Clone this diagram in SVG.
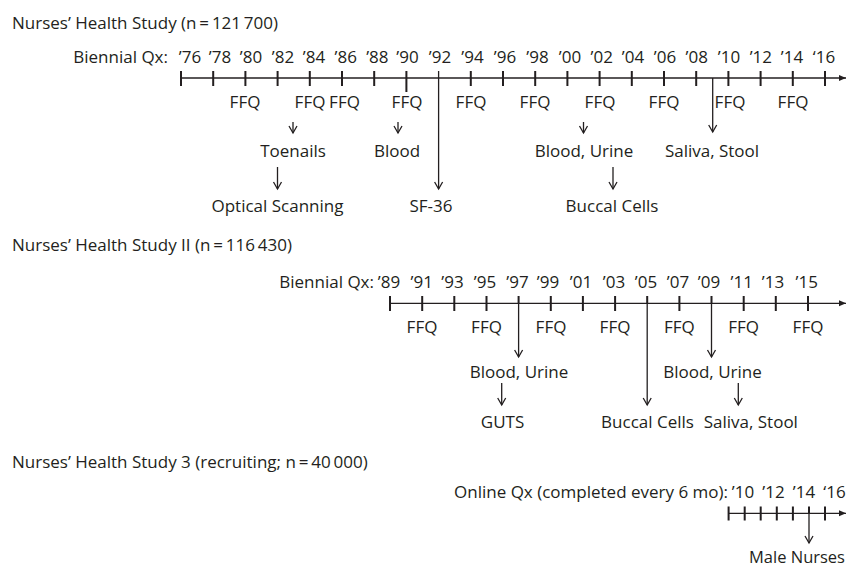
<svg xmlns="http://www.w3.org/2000/svg" width="847" height="567" viewBox="0 0 847 567">
<style>
text{font-family:"Open Sans","Liberation Sans",sans-serif;font-size:17px;fill:#231f20}
.m{text-anchor:middle}
.e{text-anchor:end}
.axis{stroke:#231f20;stroke-width:1.3;fill:none}
.tick{stroke:#231f20;stroke-width:2;fill:none}
.arr{stroke:#231f20;stroke-width:1.3;fill:none;marker-end:url(#v)}
</style>
<defs>
<marker id="tri" markerUnits="userSpaceOnUse" viewBox="-10 -10 20 20" markerWidth="20" markerHeight="20" refX="0" refY="0" orient="auto"><path d="M-7,-3 L0,0 L-7,3 Z" fill="#231f20"/></marker>
<marker id="v" markerUnits="userSpaceOnUse" viewBox="-10 -10 20 20" markerWidth="20" markerHeight="20" refX="0" refY="0" orient="auto"><path d="M-7,-4 L0,0 L-7,4" fill="none" stroke="#231f20" stroke-width="1.3"/></marker>
</defs>

<g id="nhs1">
<text id="nhs1-title" x="12" y="29">Nurses’ Health Study (n&#8201;=&#8201;121&#8201;700)</text>
<g id="nhs1-axis">
<text class="e" x="168" y="63">Biennial Qx:</text>
<g class="m">
<text x="190" y="63">’76</text><text x="220" y="63">’78</text><text x="251" y="63">’80</text><text x="283" y="63">’82</text><text x="314" y="63">’84</text><text x="345.7" y="63">’86</text><text x="377.3" y="63">’88</text><text x="407.5" y="63">’90</text><text x="440" y="63">’92</text><text x="472.5" y="63">’94</text><text x="505" y="63">’96</text><text x="537.5" y="63">’98</text><text x="570" y="63">’00</text><text x="601.7" y="63">’02</text><text x="633" y="63">’04</text><text x="665" y="63">’06</text><text x="696.7" y="63">’08</text><text x="729" y="63">’10</text><text x="760.8" y="63">’12</text><text x="792" y="63">’14</text><text x="824" y="63">‘16</text>
</g>
<line class="axis" x1="181" y1="78" x2="846" y2="78" marker-end="url(#tri)"/>
<path class="tick" d="M181,71V86M213.2,71V86M245.4,71V86M277.6,71V86M309.8,71V86M342,71V86M374.2,71V86M406.4,71V92M470.8,71V86M503,71V86M535.2,71V86M567.4,71V86M599.6,71V86M631.8,71V86M664,71V86M696.2,71V86M728.4,71V86M760.6,71V86M792.8,71V86M825,71V86"/>
</g>
<g id="nhs1-ffq" class="m">
<text x="245" y="108">FFQ</text><text x="310" y="108">FFQ</text><text x="344.5" y="108">FFQ</text><text x="407" y="108">FFQ</text><text x="471" y="108">FFQ</text><text x="535" y="108">FFQ</text><text x="600" y="108">FFQ</text><text x="664" y="108">FFQ</text><text x="730" y="108">FFQ</text><text x="793" y="108">FFQ</text>
</g>
<text id="toenails" class="m" x="293" y="157">Toenails</text>
<text id="optical" class="m" x="277.5" y="212">Optical Scanning</text>
<text id="blood1" class="m" x="397" y="157">Blood</text>
<text id="sf36" class="m" x="431" y="212">SF-36</text>
<text id="bloodurine1" class="m" x="584" y="157">Blood, Urine</text>
<text id="buccal1" class="m" x="612" y="212">Buccal Cells</text>
<text id="saliva1" class="m" x="712" y="157">Saliva, Stool</text>
</g>

<g id="nhs2">
<text id="nhs2-title" x="12" y="251">Nurses’ Health Study II (n&#8201;=&#8201;116&#8201;430)</text>
<g id="nhs2-axis">
<text class="e" x="374" y="288">Biennial Qx:</text>
<g class="m">
<text x="389" y="288">’89</text><text x="421.7" y="288">’91</text><text x="452.5" y="288">’93</text><text x="485" y="288">’95</text><text x="517.5" y="288">’97</text><text x="548" y="288">’99</text><text x="581" y="288">’01</text><text x="614" y="288">’03</text><text x="646" y="288">’05</text><text x="678" y="288">’07</text><text x="709" y="288">’09</text><text x="741.7" y="288">’11</text><text x="773" y="288">’13</text><text x="806.7" y="288">’15</text>
</g>
<line class="axis" x1="390" y1="303.3" x2="846" y2="303.3" marker-end="url(#tri)"/>
<path class="tick" d="M390,296V311M422.2,296V311M454.3,296V311M486.5,296V311M550.8,296V311M582.9,296V311M615.1,296V311M679.4,296V311M743.7,296V311M775.8,296V311M808,296V311M518.6,296V304M647.2,296V304M711.5,296V304"/>
</g>
<g id="nhs2-ffq" class="m">
<text x="422" y="333">FFQ</text><text x="486.5" y="333">FFQ</text><text x="551" y="333">FFQ</text><text x="615" y="333">FFQ</text><text x="679.4" y="333">FFQ</text><text x="743.7" y="333">FFQ</text><text x="808" y="333">FFQ</text>
</g>
<text id="bloodurine2" class="m" x="519" y="378">Blood, Urine</text>
<text id="guts" class="m" x="502.5" y="428">GUTS</text>
<text id="buccal2" class="m" x="647.5" y="428">Buccal Cells</text>
<text id="bloodurine3" class="m" x="712.5" y="378">Blood, Urine</text>
<text id="saliva2" class="m" x="750.8" y="428">Saliva, Stool</text>
</g>

<g id="nhs3">
<text id="nhs3-title" x="12" y="468">Nurses’ Health Study 3 (recruiting; n&#8201;=&#8201;40&#8201;000)</text>
<g id="nhs3-axis">
<text class="e" x="728" y="498">Online Qx (completed every 6 mo):</text>
<g class="m">
<text x="743" y="498">’10</text><text x="773.5" y="498">’12</text><text x="804" y="498">’14</text><text x="834.5" y="498">‘16</text>
</g>
<line class="axis" x1="728.6" y1="513.3" x2="846" y2="513.3" marker-end="url(#tri)"/>
<path class="tick" d="M728.6,506.5V520.5M744.7,506.5V520.5M760.7,506.5V520.5M776.8,506.5V520.5M792.9,506.5V520.5M825,506.5V520.5M809,506.5V514"/>
</g>
<text id="malenurses" class="e" x="845" y="563" style="font-size:16.5px">Male Nurses</text>
</g>

<g id="connectors">
<line class="arr" x1="293" y1="122" x2="293" y2="133"/>
<line class="arr" x1="277.5" y1="167" x2="277.5" y2="189"/>
<line class="arr" x1="398" y1="122" x2="398" y2="133"/>
<line class="arr" x1="438.6" y1="71" x2="438.6" y2="189"/>
<line class="arr" x1="583.5" y1="122" x2="583.5" y2="133"/>
<line class="arr" x1="613" y1="167" x2="613" y2="189"/>
<line class="arr" x1="712.7" y1="78" x2="712.7" y2="132"/>
<line class="arr" x1="518.6" y1="303" x2="518.6" y2="357"/>
<line class="arr" x1="501.7" y1="383" x2="501.7" y2="405"/>
<line class="arr" x1="647.2" y1="303" x2="647.2" y2="405"/>
<line class="arr" x1="711.5" y1="303" x2="711.5" y2="357"/>
<line class="arr" x1="738.3" y1="383" x2="738.3" y2="405"/>
<line class="arr" x1="809" y1="513" x2="809" y2="543"/>
</g>
</svg>
